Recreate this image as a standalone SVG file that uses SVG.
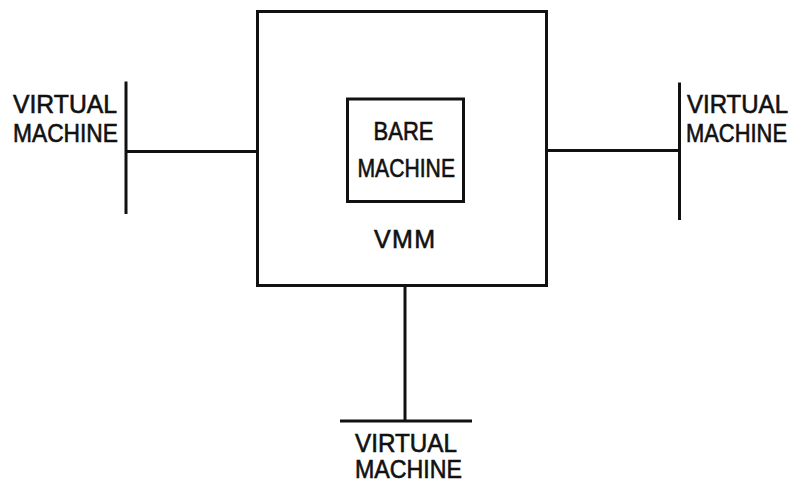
<svg xmlns="http://www.w3.org/2000/svg" width="797" height="483" viewBox="0 0 797 483">
<style>
.box{fill:none;stroke:#111;stroke-width:3}
.ln{fill:none;stroke:#111;stroke-width:3;stroke-linecap:butt}
text{font-family:"Liberation Sans",Arial,sans-serif;fill:#111;font-size:25px;stroke:#111;stroke-width:0.6}
</style>
<rect width="797" height="483" fill="#fff"/>
<g id="vmm">
<rect class="box" x="257.5" y="11.5" width="289" height="274"/>
<text x="374" y="248" font-size="23" textLength="61" lengthAdjust="spacing">VMM</text>
</g>
<g id="bare-machine">
<rect class="box" x="347.5" y="99" width="116" height="102.5"/>
<text x="373.5" y="140" font-size="22" textLength="60" lengthAdjust="spacingAndGlyphs">BARE</text>
<text x="357.5" y="177" font-size="22" textLength="97.5" lengthAdjust="spacingAndGlyphs">MACHINE</text>
</g>
<g id="vm-left">
<line class="ln" x1="126" y1="81.5" x2="126" y2="214"/>
<text x="13" y="113" textLength="104" lengthAdjust="spacingAndGlyphs">VIRTUAL</text>
<text x="13" y="142" textLength="105" lengthAdjust="spacingAndGlyphs">MACHINE</text>
</g>
<g id="vm-right">
<line class="ln" x1="679.5" y1="82.5" x2="679.5" y2="220"/>
<text x="687" y="113" font-size="24" textLength="101" lengthAdjust="spacingAndGlyphs">VIRTUAL</text>
<text x="686" y="142" font-size="22" textLength="101" lengthAdjust="spacingAndGlyphs">MACHINE</text>
</g>
<g id="vm-bottom">
<line class="ln" x1="340" y1="421" x2="472" y2="421"/>
<text x="355" y="452" textLength="102" lengthAdjust="spacingAndGlyphs">VIRTUAL</text>
<text x="355" y="478" textLength="107" lengthAdjust="spacingAndGlyphs">MACHINE</text>
</g>
<g id="connectors">
<line class="ln" x1="126" y1="151.5" x2="257.5" y2="151.5"/>
<line class="ln" x1="546.5" y1="150.5" x2="679.5" y2="150.5"/>
<line class="ln" x1="405" y1="285.5" x2="405" y2="421"/>
</g>
</svg>
